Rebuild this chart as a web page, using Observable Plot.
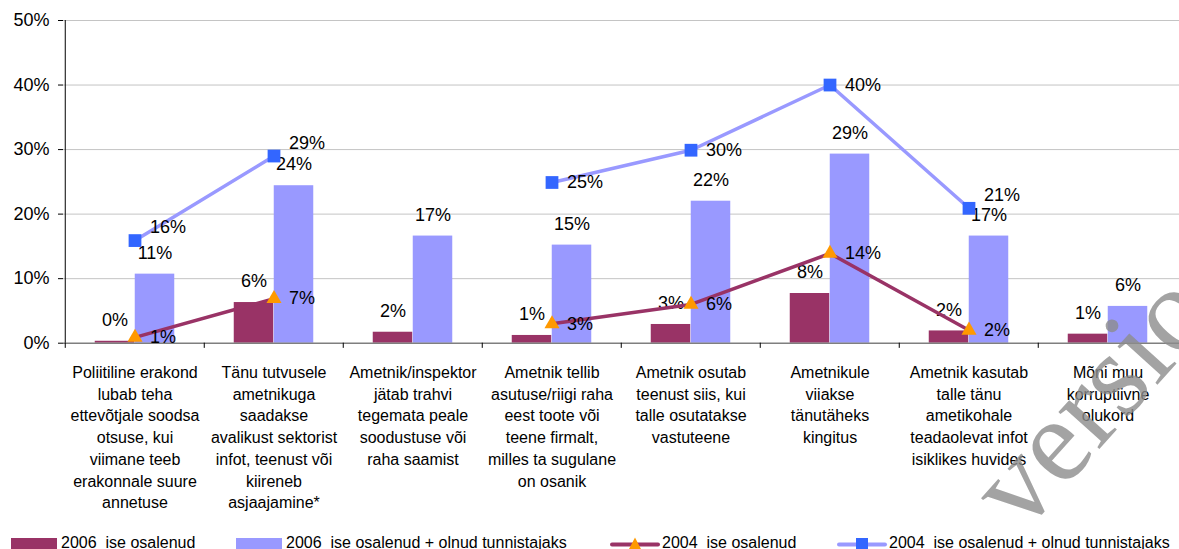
<!DOCTYPE html>
<html>
<head>
<meta charset="utf-8">
<script src="https://cdn.jsdelivr.net/npm/d3@7"></script>
<script src="https://cdn.jsdelivr.net/npm/@observablehq/plot@0.6"></script>
<style>
  html, body { margin: 0; padding: 0; background: #fff; overflow: hidden; }
  #wrap { position: relative; width: 1179px; height: 549px; overflow: hidden; font-family: Arial, "Liberation Sans", sans-serif; }
  #chart svg { display: block; }
  .leg { position: absolute; font-size: 16px; line-height: 16px; color: #000; white-space: pre; }
  .sw { position: absolute; }
  #wm { position: absolute; left: 0; top: 0; pointer-events: none; }
</style>
</head>
<body>
<div id="wrap">
  <div id="chart"></div>
  <div id="legend"></div>
  <svg id="wm" width="1179" height="549"></svg>
</div>
<script>
const categories = [
  "Poliitiline erakond\nlubab teha\nettevõtjale soodsa\notsuse, kui\nviimane teeb\nerakonnale suure\nannetuse",
  "Tänu tutvusele\nametnikuga\nsaadakse\navalikust sektorist\ninfot, teenust või\nkiireneb\nasjaajamine*",
  "Ametnik/inspektor\njätab trahvi\ntegemata peale\nsoodustuse või\nraha saamist",
  "Ametnik tellib\nasutuse/riigi raha\neest toote või\nteene firmalt,\nmilles ta sugulane\non osanik",
  "Ametnik osutab\nteenust siis, kui\ntalle osutatakse\nvastuteene",
  "Ametnikule\nviiakse\ntänutäheks\nkingitus",
  "Ametnik kasutab\ntalle tänu\nametikohale\nteadaolevat infot\nisiklikes huvides",
  "Mõni muu\nkorruptiivne\nolukord"
];
const seriesNames = [
  "2006  ise osalenud",
  "2006  ise osalenud + olnud tunnistajaks",
  "2004  ise osalenud",
  "2004  ise osalenud + olnud tunnistajaks"
];
const own2006 = [0.3, 6.3, 1.7, 1.2, 2.9, 7.7, 1.9, 1.4];
const witness2006 = [10.7, 24.4, 16.6, 15.2, 22.0, 29.3, 16.6, 5.7];
const own2004 = [0.9, 6.9, null, 3.0, 6.0, 13.9, 2.0, null];
const witness2004 = [15.9, 29.0, null, 24.9, 29.9, 40.0, 20.9, null];
const yTicks = [0, 10, 20, 30, 40, 50];
const watermarkText = "version";

const colors = { dark: "#993366", light: "#9999FF", orange: "#FF9900", blue: "#3366FF" };

const W = 1179, H = 530, mL = 63, mR = 0, mT = 20, yZero = 342.7;
const mB = H - yZero;
const bw = (W - mL - mR) / categories.length;
const barW = 40;

const rows = a => categories.map((c, i) => ({cat: c, v: a[i], i}));
const d06a = rows(own2006), d06b = rows(witness2006), d04a = rows(own2004), d04b = rows(witness2004);
const pts04a = d04a.filter(d => d.v != null);
const pts04b = d04b.filter(d => d.v != null);
const fmt = v => Math.round(v) + "%";

// move a blue-line label up when it would collide with the light bar's label
const pxPerUnit = (yZero - mT) / 50;
const collide = d => Math.abs((d.v - witness2006[d.i]) * pxPerUnit - 21) < 14;
const pts04bA = pts04b.filter(d => !collide(d));
const pts04bB = pts04b.filter(d => collide(d));

const font = 18;

const chart = Plot.plot({
  width: W, height: H,
  marginLeft: mL, marginRight: mR, marginTop: mT, marginBottom: mB,
  style: { fontFamily: "Arial, 'Liberation Sans', sans-serif", color: "#000", background: "#fff" },
  x: { type: "band", domain: categories, padding: 0, axis: null },
  y: { domain: [0, 50], axis: null },
  marks: [
    Plot.ruleY(yTicks.filter(t => t > 0), { stroke: "#c4c4c4", strokeWidth: 1 }),
    Plot.barY(d06a, { x: "cat", y: "v", fill: colors.dark, insetLeft: bw / 2 - barW, insetRight: bw / 2 }),
    Plot.barY(d06b, { x: "cat", y: "v", fill: colors.light, insetLeft: bw / 2, insetRight: bw / 2 - barW }),
    Plot.ruleY([0], { stroke: "#7f7f7f", strokeWidth: 1.5 }),
    Plot.ruleX(categories, { x: d => d, dx: -bw / 2, y1: 0, y2: -0.8, stroke: "#000", strokeWidth: 1 }),
    Plot.ruleX([categories[0]], { x: d => d, dx: -bw / 2, y1: 0, y2: 50, stroke: "#000", strokeWidth: 1 }),
    Plot.axisY({ ticks: yTicks, tickFormat: d => d + "%", tickSize: 5, tickPadding: 9, fontSize: font, label: null, stroke: "#000" }),
    Plot.axisX({ tickSize: 0, tickPadding: 19.5, fontSize: 16, lineHeight: 1.356, tickFormat: d => d, label: null }),
    Plot.text(d06a, { x: "cat", y: "v", text: d => fmt(d.v), dx: -barW / 2, dy: -21, fontSize: font, fill: "#000" }),
    Plot.text(d06b, { x: "cat", y: "v", text: d => fmt(d.v), dx: barW / 2, dy: -21, fontSize: font, fill: "#000" }),
    Plot.lineY(d04b, { x: "cat", y: "v", stroke: colors.light, strokeWidth: 3.5 }),
    Plot.lineY(d04a, { x: "cat", y: "v", stroke: colors.dark, strokeWidth: 3.5 }),
    Plot.dot(pts04b, { x: "cat", y: "v", symbol: "square", fill: colors.blue, r: 7.2 }),
    Plot.dot(pts04a, { x: "cat", y: "v", symbol: "triangle", fill: colors.orange, r: 5.6 }),
    Plot.text(pts04a, { x: "cat", y: "v", text: d => fmt(d.v), dx: 15, textAnchor: "start", fontSize: font, fill: "#000" }),
    Plot.text(pts04bA, { x: "cat", y: "v", text: d => fmt(d.v), dx: 15, textAnchor: "start", fontSize: font, fill: "#000" }),
    Plot.text(pts04bB, { x: "cat", y: "v", text: d => fmt(d.v), dx: 15, dy: -13, textAnchor: "start", fontSize: font, fill: "#000" })
  ]
});
document.getElementById("chart").appendChild(chart);

// legend (HTML, below the SVG)
const leg = document.getElementById("legend");
const items = [
  { left: 11, kind: "bar", color: colors.dark, name: seriesNames[0] },
  { left: 236, kind: "bar", color: colors.light, name: seriesNames[1] },
  { left: 610, kind: "line", color: colors.dark, marker: "triangle", mcolor: colors.orange, name: seriesNames[2] },
  { left: 837, kind: "line", color: colors.light, marker: "square", mcolor: colors.blue, name: seriesNames[3] }
];
const ns = "http://www.w3.org/2000/svg";
for (const it of items) {
  const sv = document.createElementNS(ns, "svg");
  sv.setAttribute("class", "sw");
  sv.setAttribute("width", 52); sv.setAttribute("height", 16);
  sv.style.left = it.left + "px"; sv.style.top = "536px";
  if (it.kind === "bar") {
    const r = document.createElementNS(ns, "rect");
    r.setAttribute("x", 0); r.setAttribute("y", 2); r.setAttribute("width", 46); r.setAttribute("height", 14);
    r.setAttribute("fill", it.color);
    sv.appendChild(r);
  } else {
    const l = document.createElementNS(ns, "line");
    l.setAttribute("x1", 2); l.setAttribute("x2", 48); l.setAttribute("y1", 8.5); l.setAttribute("y2", 8.5);
    l.setAttribute("stroke", it.color); l.setAttribute("stroke-width", 4); l.setAttribute("stroke-linecap", "round");
    sv.appendChild(l);
    const p = document.createElementNS(ns, "path");
    if (it.marker === "triangle") p.setAttribute("d", "M25,1.5 L31.5,14 L18.5,14 Z");
    else p.setAttribute("d", "M19,2 L31,2 L31,14 L19,14 Z");
    p.setAttribute("fill", it.mcolor);
    sv.appendChild(p);
  }
  leg.appendChild(sv);
  const t = document.createElement("div");
  t.className = "leg";
  t.textContent = it.name;
  t.style.left = (it.left + (it.kind === "bar" ? 50 : 52)) + "px";
  t.style.top = "535px";
  leg.appendChild(t);
}

// watermark
const wm = document.getElementById("wm");
const wt = document.createElementNS(ns, "text");
wt.setAttribute("x", 1022); wt.setAttribute("y", 535);
wt.setAttribute("transform", "rotate(-48 1022 535)");
wt.setAttribute("font-family", "'Liberation Serif', 'DejaVu Serif', serif");
wt.setAttribute("font-size", 120);
wt.setAttribute("fill", "rgba(140,140,140,0.8)");
wt.textContent = watermarkText;
wm.appendChild(wt);
</script>
</body>
</html>
